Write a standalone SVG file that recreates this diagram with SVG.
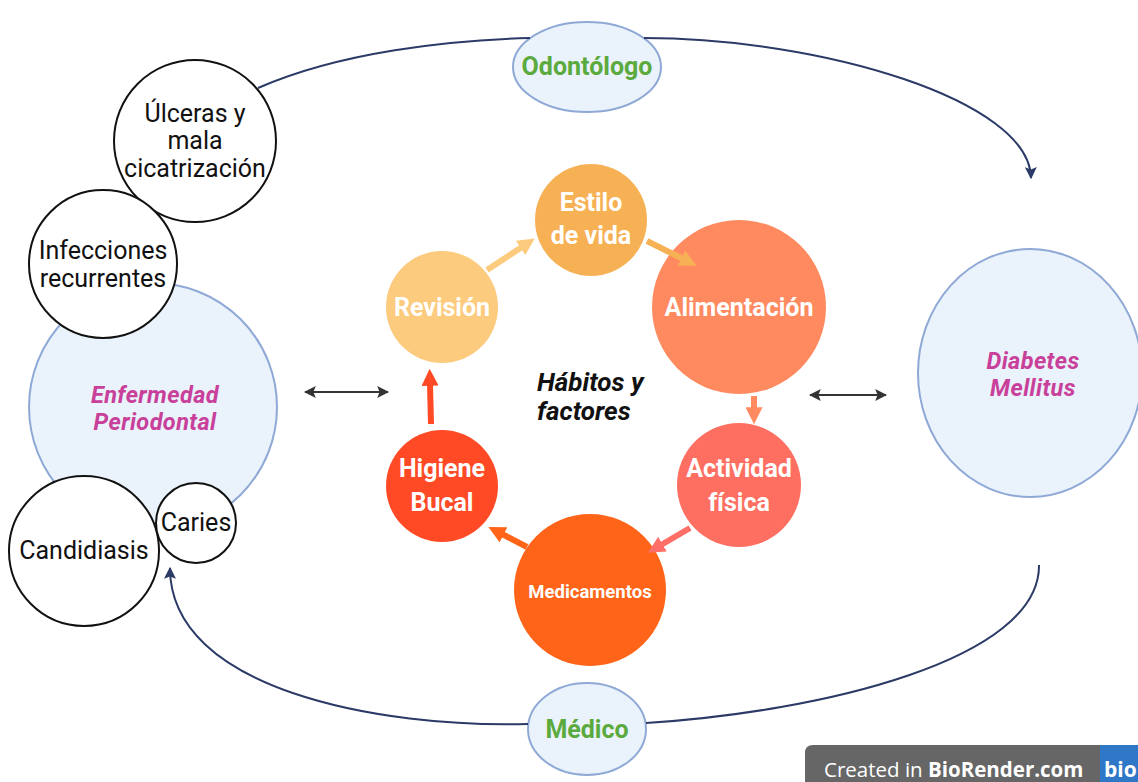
<svg xmlns="http://www.w3.org/2000/svg" width="1138" height="782" viewBox="0 0 1138 782">
<style>
.bl{fill:#EAF2FB;stroke:#8FA9D6;stroke-width:2}
.wc{fill:#fff;stroke:#111;stroke-width:2}
.t{font-family:Roboto,"Liberation Sans",sans-serif;font-size:25px;fill:#111;text-anchor:middle}
.w{font-family:Roboto,"Liberation Sans",sans-serif;font-size:25px;font-weight:bold;fill:#fff;text-anchor:middle}
.ws{font-family:Roboto,"Liberation Sans",sans-serif;font-size:18.5px;font-weight:bold;fill:#fff;text-anchor:middle}
.mg{font-family:Roboto,"Liberation Sans",sans-serif;font-size:23.5px;font-weight:bold;font-style:italic;fill:#C8409A;text-anchor:middle;letter-spacing:0.4px}
.gr{font-family:Roboto,"Liberation Sans",sans-serif;font-size:25px;font-weight:bold;fill:#5BAA3E;text-anchor:middle}
.hb{font-family:Roboto,"Liberation Sans",sans-serif;font-size:26px;font-weight:bold;font-style:italic;fill:#111}
.arc{fill:none;stroke:#2B3A66;stroke-width:2}
.da{fill:none;stroke:#333;stroke-width:1.8}
.th{fill:none;stroke-width:6}
</style>
<defs>
<marker id="nv" viewBox="0 0 10 10" refX="9" refY="5" markerWidth="12" markerHeight="12" markerUnits="userSpaceOnUse" orient="auto"><path d="M0,0 L10,5 L0,10 L2,5 z" fill="#2B3A66"/></marker>
<marker id="dk" viewBox="0 0 10 10" refX="9" refY="5" markerWidth="12" markerHeight="12" markerUnits="userSpaceOnUse" orient="auto-start-reverse"><path d="M0,0 L10,5 L0,10 L2,5 z" fill="#333"/></marker>
<marker id="m1" viewBox="0 0 10 10" refX="1" refY="5" markerWidth="17" markerHeight="17" markerUnits="userSpaceOnUse" orient="auto"><path d="M0,0 L10,5 L0,10 z" fill="#FCCB7E"/></marker>
<marker id="m2" viewBox="0 0 10 10" refX="1" refY="5" markerWidth="17" markerHeight="17" markerUnits="userSpaceOnUse" orient="auto"><path d="M0,0 L10,5 L0,10 z" fill="#F7B155"/></marker>
<marker id="m3" viewBox="0 0 10 10" refX="1" refY="5" markerWidth="17" markerHeight="17" markerUnits="userSpaceOnUse" orient="auto"><path d="M0,0 L10,5 L0,10 z" fill="#FF8A5F"/></marker>
<marker id="m4" viewBox="0 0 10 10" refX="1" refY="5" markerWidth="17" markerHeight="17" markerUnits="userSpaceOnUse" orient="auto"><path d="M0,0 L10,5 L0,10 z" fill="#FF6F68"/></marker>
<marker id="m5" viewBox="0 0 10 10" refX="1" refY="5" markerWidth="17" markerHeight="17" markerUnits="userSpaceOnUse" orient="auto"><path d="M0,0 L10,5 L0,10 z" fill="#FF6418"/></marker>
<marker id="m6" viewBox="0 0 10 10" refX="1" refY="5" markerWidth="17" markerHeight="17" markerUnits="userSpaceOnUse" orient="auto"><path d="M0,0 L10,5 L0,10 z" fill="#FF4A25"/></marker>
</defs>
<rect width="1138" height="782" fill="#fff"/>

<g id="odontologo">
<ellipse class="bl" cx="587" cy="67" rx="74" ry="45"/>
<text class="gr" x="587" y="75">Odontólogo</text>
</g>
<g id="medico">
<ellipse class="bl" cx="587" cy="729" rx="59" ry="46"/>
<text class="gr" x="587" y="738">Médico</text>
</g>

<g id="enfermedad-periodontal">
<circle class="bl" cx="153" cy="407" r="124"/>
<text class="mg" x="155" y="403">Enfermedad</text>
<text class="mg" x="155" y="430">Periodontal</text>
</g>
<g id="ulceras">
<circle class="wc" cx="195" cy="141" r="81"/>
<text class="t" x="195" y="122">Úlceras y</text>
<text class="t" x="195" y="149">mala</text>
<text class="t" x="195" y="177">cicatrización</text>
</g>
<g id="infecciones">
<circle class="wc" cx="103" cy="264" r="74"/>
<text class="t" x="103" y="259">Infecciones</text>
<text class="t" x="103" y="287">recurrentes</text>
</g>
<g id="candidiasis">
<circle class="wc" cx="84" cy="551" r="75"/>
<text class="t" x="84" y="559">Candidiasis</text>
</g>
<g id="caries">
<circle class="wc" cx="196" cy="523" r="40"/>
<text class="t" x="196" y="531">Caries</text>
</g>

<g id="diabetes-mellitus">
<ellipse class="bl" cx="1030" cy="373" rx="112" ry="124"/>
<text class="mg" x="1033" y="369">Diabetes</text>
<text class="mg" x="1033" y="396">Mellitus</text>
</g>

<g id="estilo-de-vida">
<circle cx="591" cy="220" r="56" fill="#F7B155"/>
<text class="w" x="591" y="211">Estilo</text>
<text class="w" x="591" y="244">de vida</text>
</g>
<g id="alimentacion">
<circle cx="739" cy="307" r="87" fill="#FF8A5F"/>
<text class="w" x="739" y="316">Alimentación</text>
</g>
<g id="actividad-fisica">
<circle cx="739" cy="485" r="62" fill="#FF6F61"/>
<text class="w" x="739" y="477">Actividad</text>
<text class="w" x="739" y="511">física</text>
</g>
<g id="medicamentos">
<circle cx="590" cy="590" r="76" fill="#FF6418"/>
<text class="ws" x="590" y="598">Medicamentos</text>
</g>
<g id="higiene-bucal">
<circle cx="442" cy="486" r="56" fill="#FF4A25"/>
<text class="w" x="442" y="477">Higiene</text>
<text class="w" x="442" y="511">Bucal</text>
</g>
<g id="revision">
<circle cx="442" cy="307" r="56" fill="#FCCB7E"/>
<text class="w" x="442" y="316">Revisión</text>
</g>

<g id="habitos">
<text class="hb" x="537" y="391">Hábitos y</text>
<text class="hb" x="537" y="420">factores</text>
</g>

<g id="connectors">
<path class="arc" d="M258,88 C340,52 450,40 530,38"/>
<path class="arc" d="M644,38 C820,38 1030,100 1031,178" marker-end="url(#nv)"/>
<path class="arc" d="M1039,565 C1040,660 820,712 646,723"/>
<path class="arc" d="M528,724 C380,728 170,690 170,568" marker-end="url(#nv)"/>
<line class="da" x1="305" y1="392" x2="388" y2="392" marker-start="url(#dk)" marker-end="url(#dk)"/>
<line class="da" x1="810" y1="395" x2="886" y2="395" marker-start="url(#dk)" marker-end="url(#dk)"/>
<line class="th" stroke="#FCCB7E" x1="487" y1="270" x2="522" y2="247" marker-end="url(#m1)"/>
<line class="th" stroke="#F7B155" x1="647" y1="241" x2="683" y2="259" marker-end="url(#m2)"/>
<line class="th" stroke="#FF8A5F" x1="754" y1="396" x2="754" y2="409" marker-end="url(#m3)"/>
<line class="th" stroke="#FF6F68" x1="690" y1="528" x2="661" y2="545" marker-end="url(#m4)"/>
<line class="th" stroke="#FF6418" x1="527" y1="547" x2="502" y2="534" marker-end="url(#m5)"/>
<line class="th" stroke="#FF4A25" x1="431" y1="424" x2="430" y2="384" marker-end="url(#m6)"/>
</g>

<g id="biorender">
<path d="M813,745 H1100 V782 H805 V753 Q805,745 813,745 z" fill="#666"/>
<rect x="1100" y="745" width="38" height="37" fill="#2F78C8"/>
<text x="824" y="777" font-family="'Open Sans','Liberation Sans',sans-serif" font-size="20.5" fill="#fff">Created in <tspan font-weight="bold">BioRender.com</tspan></text>
<text x="1104" y="777" font-family="'Open Sans','Liberation Sans',sans-serif" font-size="21" font-weight="bold" fill="#fff">bio</text>
</g>
</svg>
